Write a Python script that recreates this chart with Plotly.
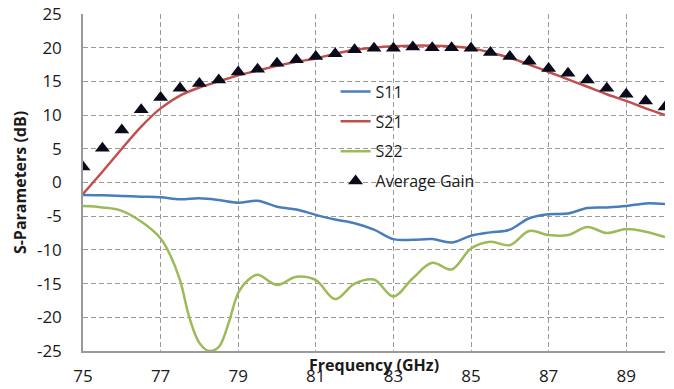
import plotly.graph_objects as go

freq = [75.0, 75.5, 76.0, 76.5, 77.0, 77.5, 78.0, 78.5, 79.0, 79.5, 80.0, 80.5,
        81.0, 81.5, 82.0, 82.5, 83.0, 83.5, 84.0, 84.5, 85.0, 85.5, 86.0, 86.5,
        87.0, 87.5, 88.0, 88.5, 89.0, 89.5, 90.0]

s11 = [-1.85, -1.9, -2.0, -2.1, -2.2, -2.5, -2.35, -2.6, -3.0, -2.7, -3.6, -4.0,
       -4.8, -5.5, -6.05, -7.0, -8.4, -8.5, -8.4, -8.9, -7.9, -7.4, -7.0, -5.3,
       -4.7, -4.6, -3.8, -3.7, -3.5, -3.1, -3.2]

s21 = [-1.7, 1.6, 5.0, 8.3, 11.0, 12.9, 14.1, 15.0, 15.9, 16.6, 17.3, 17.9,
       18.4, 19.1, 19.7, 20.0, 20.2, 20.3, 20.3, 20.2, 19.9, 19.3, 18.5, 17.5,
       16.4, 15.3, 14.2, 13.1, 12.1, 11.0, 10.0]

freq_s22 = [75.0, 75.5, 76.0, 76.5, 77.0, 77.25, 77.5, 77.75, 78.0, 78.25, 78.5,
            78.75, 79.0, 79.25, 79.5, 80.0, 80.5, 81.0, 81.5, 82.0, 82.5, 83.0,
            83.5, 84.0, 84.5, 85.0, 85.5, 86.0, 86.5, 87.0, 87.5, 88.0, 88.5,
            89.0, 89.5, 90.0]
s22 = [-3.5, -3.7, -4.2, -5.8, -8.3, -10.8, -14.5, -20.2, -23.8, -25.0, -24.4,
       -20.9, -16.4, -14.5, -13.7, -15.2, -14.0, -14.5, -17.3, -15.0, -14.4, -16.9,
       -14.2, -11.9, -12.9, -9.8, -8.8, -9.3, -7.2, -7.8, -7.8, -6.6, -7.5,
       -6.9, -7.3, -8.1]

avg_gain = [2.3, 5.1, 7.8, 10.8, 12.6, 14.0, 14.7, 15.2, 16.4, 16.8, 17.7, 18.2,
            18.7, 19.1, 19.7, 19.9, 19.9, 20.1, 20.0, 20.0, 19.9, 19.3, 18.7, 18.0,
            16.9, 16.2, 15.2, 14.0, 13.1, 12.1, 11.2]

x_ticks = [75, 77, 79, 81, 83, 85, 87, 89]
y_ticks = [-25, -20, -15, -10, -5, 0, 5, 10, 15, 20, 25]

FONT = "Open Sans"
GRID = "#9a9a9a"

fig = go.Figure()
fig.add_trace(go.Scatter(x=freq, y=s11, mode="lines", name="S11", legendgroup="a",
                         line=dict(color="#4a7ebb", width=2.5, shape="spline")))
fig.add_trace(go.Scatter(x=freq, y=s21, mode="lines", name="S21", legendgroup="b",
                         line=dict(color="#c0504d", width=2.5, shape="spline")))
fig.add_trace(go.Scatter(x=freq_s22, y=s22, mode="lines", name="S22", legendgroup="c",
                         line=dict(color="#9bbb59", width=2.5, shape="spline")))
fig.add_trace(go.Scatter(x=freq, y=avg_gain, mode="markers", name="Average Gain",
                         legendgroup="d",
                         marker=dict(symbol="triangle-up", size=13, color="#0a0a1a",
                                     line=dict(width=0))))

fig.update_layout(
    template="none",
    width=674, height=389,
    margin=dict(l=83, r=9, t=14, b=38, autoexpand=False),
    paper_bgcolor="white", plot_bgcolor="white",
    font=dict(family=FONT, size=17, color="#1a1a1a"),
    showlegend=True,
    legend=dict(x=0.434, y=0.82, xanchor="left", yanchor="top",
                bgcolor="rgba(0,0,0,0)", font=dict(family=FONT, size=16, color="#1a1a1a"),
                tracegroupgap=6, itemwidth=30),
    xaxis=dict(range=[75, 90], tickmode="array", tickvals=x_ticks,
               ticktext=[str(v) for v in x_ticks],
               automargin=False,
               showgrid=True, gridcolor=GRID, griddash="5px,3px", gridwidth=1,
               showline=True, linecolor=GRID, linewidth=1.5, zeroline=False,
               ticks="outside", ticklen=9, tickcolor="white", tickwidth=1,
               tickfont=dict(family=FONT, size=17)),
    yaxis=dict(range=[-25, 25], tickmode="array", tickvals=y_ticks,
               ticktext=[str(v) for v in y_ticks],
               automargin=False,
               showgrid=True, gridcolor=GRID, griddash="5px,3px", gridwidth=1,
               showline=True, linecolor=GRID, linewidth=1.5, zeroline=False,
               ticks="outside", ticklen=16, tickcolor="white", tickwidth=1,
               tickfont=dict(family=FONT, size=17),
               title=dict(text="<b>S-Parameters (dB)</b>", font=dict(family=FONT, size=16),
                          standoff=6)),
)

fig.add_annotation(text="<b>Frequency (GHz)</b>", xref="paper", yref="paper",
                   x=0.5, y=-0.042, xanchor="center", yanchor="middle", showarrow=False,
                   font=dict(family=FONT, size=16, color="#1a1a1a"))

fig.write_html("out.html")
